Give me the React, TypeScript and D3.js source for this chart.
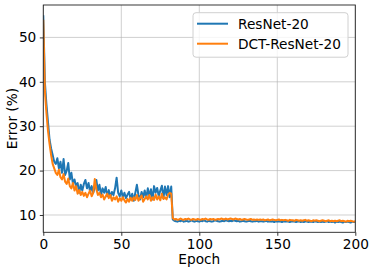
import * as d3 from 'd3';
import React, { useRef, useEffect } from 'react';

// error (%) per epoch, 0..200
const resnetErr: number[] = [
  55.0, 40.0, 35.0, 31.0, 27.0, 25.0, 23.5, 22.0, 21.5, 22.8,
  20.5, 22.0, 19.5, 22.6, 19.0, 20.0, 21.7, 18.0, 19.5, 17.0,
  18.0, 16.5, 17.2, 15.0, 16.8, 15.5, 17.0, 17.9, 16.0, 17.2,
  15.2, 16.5, 15.0, 16.2, 17.9, 15.5, 16.8, 14.5, 16.0, 15.0,
  16.3, 14.2, 15.6, 14.0, 15.2, 14.5, 16.0, 18.4, 15.0, 14.2,
  15.5, 14.0, 15.0, 13.8, 14.6, 15.2, 13.5, 14.8, 13.2, 15.0,
  16.8, 14.5, 13.5, 15.2, 14.0, 15.5, 13.8, 16.0, 14.2, 15.8,
  13.5, 16.5, 15.0, 16.1, 14.2, 15.5, 16.6, 13.8, 16.4, 14.5,
  16.5, 14.0, 16.4, 9.0,
  8.7, 8.6, 8.5, 8.7, 8.6, 8.8, 8.5, 8.6, 8.7, 8.5, 8.6, 8.8, 8.6, 8.5, 8.7, 8.6,
  8.5, 8.7, 8.6, 8.8, 8.6, 8.5, 8.7, 8.6, 8.5, 8.6, 8.8, 8.7, 8.6, 8.5, 8.6, 8.7, 8.6, 8.8, 8.7, 8.6,
  8.7, 8.6, 8.8, 8.7, 8.6, 8.7, 8.5, 8.6, 8.7, 8.6, 8.5, 8.6, 8.7, 8.6, 8.5, 8.6, 8.6, 8.7, 8.5, 8.6,
  8.6, 8.5, 8.6, 8.7, 8.5, 8.6, 8.5, 8.6, 8.4, 8.6, 8.5, 8.6, 8.5, 8.4, 8.6, 8.5, 8.6, 8.5, 8.4, 8.5,
  8.6, 8.5, 8.4, 8.5, 8.6, 8.4, 8.5, 8.4, 8.6, 8.5, 8.4, 8.5, 8.5, 8.4, 8.6, 8.5, 8.4, 8.5, 8.4, 8.5,
  8.4, 8.5, 8.6, 8.4, 8.5, 8.4, 8.5, 8.3, 8.5, 8.4, 8.5, 8.4, 8.3, 8.5, 8.4, 8.5, 8.4, 8.3, 8.5, 8.4, 8.4,
];

const dctResnetErr: number[] = [
  54.0, 38.0, 33.0, 29.0, 26.0, 23.5, 21.5, 20.5, 19.5, 19.0,
  20.2, 18.5, 18.0, 19.2, 17.5, 17.0, 18.2, 16.5, 16.0, 17.2,
  15.5, 16.5, 14.8, 15.6, 14.5, 15.2, 14.3, 15.0, 14.0, 14.8,
  15.5, 14.2, 15.0, 18.1, 15.8, 14.5, 15.0, 14.0, 14.6, 13.5,
  14.2, 14.8, 13.8, 14.5, 13.2, 14.0, 13.5, 14.2, 13.0, 13.8,
  13.2, 14.0, 13.3, 12.8, 13.6, 13.0, 13.9, 13.2, 14.0, 13.4,
  14.5, 13.2, 13.8, 14.4, 13.0, 13.6, 14.2, 13.5, 14.5, 13.2,
  14.0, 13.4, 14.6, 13.5, 14.2, 13.3, 14.8, 13.6, 14.0, 13.5,
  14.6, 15.0, 14.8, 9.3,
  9.0, 9.1, 8.9, 9.0, 9.2, 9.0, 8.9, 9.1, 9.0, 9.2, 9.0, 8.9, 9.1, 9.0, 8.9, 9.1,
  9.0, 8.9, 9.1, 9.0, 9.2, 9.0, 8.9, 9.1, 9.0, 9.1, 8.9, 9.0, 9.1, 9.0, 9.2, 9.1, 9.0, 9.2, 9.0, 9.1,
  9.2, 9.1, 9.0, 9.2, 9.1, 9.0, 9.1, 8.9, 9.0, 9.1, 9.0, 8.9, 9.0, 9.1, 8.9, 9.0, 8.9, 9.0, 8.9, 9.0,
  8.9, 9.0, 8.8, 8.9, 9.0, 8.8, 8.9, 9.0, 8.9, 8.8, 8.9, 9.0, 8.8, 8.9, 8.8, 8.9, 8.8, 8.7, 8.9, 8.8,
  8.8, 8.7, 8.9, 8.8, 8.7, 8.8, 8.7, 8.8, 8.9, 8.7, 8.8, 8.7, 8.6, 8.8, 8.7, 8.8, 8.7, 8.6, 8.7, 8.8,
  8.7, 8.6, 8.7, 8.8, 8.6, 8.7, 8.6, 8.7, 8.6, 8.7, 8.8, 8.6, 8.7, 8.6, 8.5, 8.7, 8.6, 8.7, 8.6, 8.5, 8.6,
];

const seriesNames = ['ResNet-20', 'DCT-ResNet-20'];
const seriesColors = ['#1f77b4', '#ff7f0e'];
const xTicks = [0, 50, 100, 150, 200];
const yTicks = [10, 20, 30, 40, 50];

const W = 374;
const H = 273;
const FONT = 'DejaVu Sans, sans-serif';

export default function App() {
  const svgRef = useRef<SVGSVGElement>(null);

  useEffect(() => {
    if (!svgRef.current) return;
    const svg = d3.select(svgRef.current);
    svg.selectAll('*').remove();

    const margin = { top: 5, right: 18.7, bottom: 40.7, left: 43.3 };
    const iw = W - margin.left - margin.right;
    const ih = H - margin.top - margin.bottom;

    const x = d3.scaleLinear().domain([0, 200]).range([0, iw]);
    const y = d3.scaleLinear().domain([6.1, 57.3]).range([ih, 0]);

    const g = svg.append('g').attr('transform', `translate(${margin.left},${margin.top})`);

    // grid
    g.append('g')
      .selectAll('line.gx')
      .data(xTicks)
      .enter()
      .append('line')
      .attr('x1', (d) => x(d))
      .attr('x2', (d) => x(d))
      .attr('y1', 0)
      .attr('y2', ih)
      .attr('stroke', '#b0b0b0')
      .attr('stroke-opacity', 0.6)
      .attr('stroke-width', 1);
    g.append('g')
      .selectAll('line.gy')
      .data(yTicks)
      .enter()
      .append('line')
      .attr('x1', 0)
      .attr('x2', iw)
      .attr('y1', (d) => y(d))
      .attr('y2', (d) => y(d))
      .attr('stroke', '#b0b0b0')
      .attr('stroke-opacity', 0.6)
      .attr('stroke-width', 1);

    // lines
    const line = d3
      .line<number>()
      .x((_, i) => x(i))
      .y((d) => y(d));
    const clip = g.append('clipPath').attr('id', 'plotclip');
    clip.append('rect').attr('width', iw).attr('height', ih);
    [resnetErr, dctResnetErr].forEach((s, k) => {
      g.append('path')
        .datum(s)
        .attr('clip-path', 'url(#plotclip)')
        .attr('d', line)
        .attr('fill', 'none')
        .attr('stroke', seriesColors[k])
        .attr('stroke-width', 2)
        .attr('stroke-linejoin', 'round');
    });

    // axes
    const xAxis = g
      .append('g')
      .attr('transform', `translate(0,${ih})`)
      .call(d3.axisBottom(x).tickValues(xTicks).tickSize(3.5).tickPadding(3.5));
    const yAxis = g
      .append('g')
      .call(d3.axisLeft(y).tickValues(yTicks).tickSize(3.5).tickPadding(3.5));
    [xAxis, yAxis].forEach((a) => {
      a.select('.domain').remove();
      a.selectAll('line').attr('stroke', '#000').attr('stroke-width', 0.8);
      a.selectAll('text').attr('font-family', FONT).attr('font-size', 13.7).attr('fill', '#000');
    });

    // spines
    g.append('rect')
      .attr('width', iw)
      .attr('height', ih)
      .attr('fill', 'none')
      .attr('stroke', '#222')
      .attr('stroke-width', 0.9);

    // axis labels
    svg.append('text')
      .attr('x', margin.left + iw / 2)
      .attr('y', 264)
      .attr('text-anchor', 'middle')
      .attr('font-family', FONT)
      .attr('font-size', 13.7)
      .text('Epoch');
    svg.append('text')
      .attr('transform', `translate(17,${margin.top + ih / 2}) rotate(-90)`)
      .attr('text-anchor', 'middle')
      .attr('font-family', FONT)
      .attr('font-size', 13.7)
      .text('Error (%)');

    // legend
    const lg = svg.append('g').attr('transform', 'translate(193,12.7)');
    lg.append('rect')
      .attr('width', 155)
      .attr('height', 44.5)
      .attr('rx', 3)
      .attr('fill', '#fff')
      .attr('fill-opacity', 0.8)
      .attr('stroke', '#d0d0d0')
      .attr('stroke-width', 1);
    seriesNames.forEach((name, i) => {
      const yy = 11 + i * 20;
      lg.append('line')
        .attr('x1', 4)
        .attr('x2', 35)
        .attr('y1', yy)
        .attr('y2', yy)
        .attr('stroke', seriesColors[i])
        .attr('stroke-width', 2);
      lg.append('text')
        .attr('x', 45)
        .attr('y', yy + 5)
        .attr('font-family', FONT)
        .attr('font-size', 13.7)
        .text(name);
    });
  }, []);

  return (
    <svg
      ref={svgRef}
      width={W}
      height={H}
      style={{ position: 'absolute', left: 0, top: 0, background: '#fff' }}
    />
  );
}
